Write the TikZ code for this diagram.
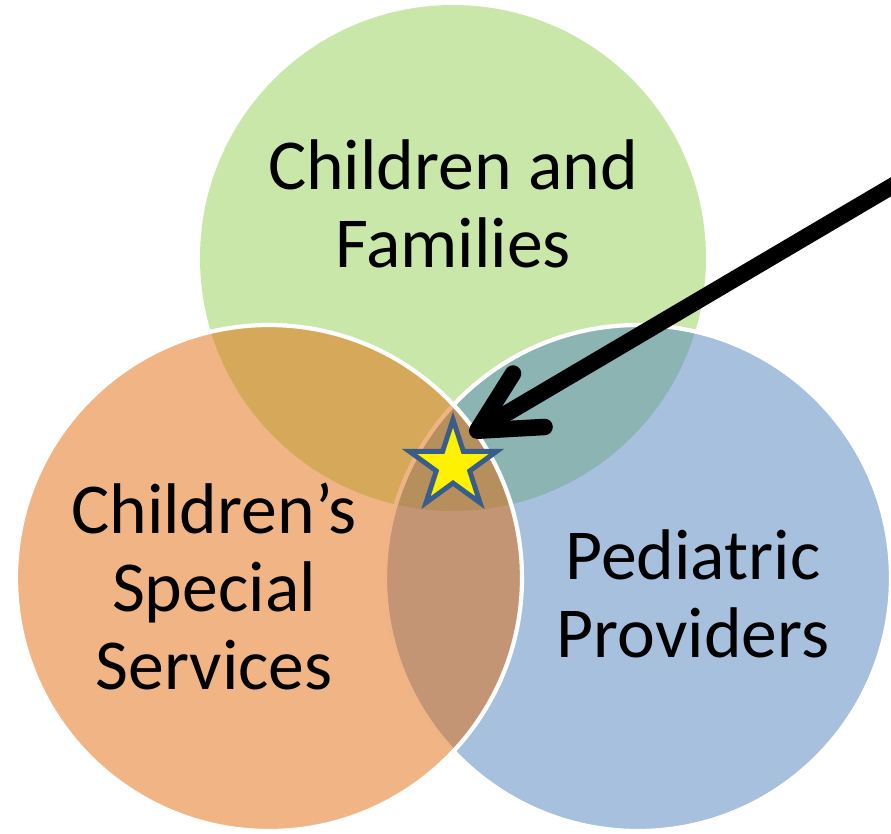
\documentclass[tikz,border=0pt]{standalone}
\usepackage{fontspec}
\setmainfont{Carlito}
\usepackage{xcolor}
\usetikzlibrary{shapes,arrows,positioning,arrows.meta,calc}

\definecolor{famgreen}{RGB}{147,207,83}
\definecolor{pedblue}{RGB}{79,129,189}
\definecolor{cssorange}{RGB}{227,107,11}
\definecolor{starblue}{RGB}{56,93,138}

\begin{document}
\begin{tikzpicture}
    % page frame
    \clip (0,0) rectangle (8.91,-8.33);

    \begin{scope}
        % Three overlapping circles
        \node[circle, minimum size=5.06cm, inner sep=0pt,
              fill=famgreen, fill opacity=0.5] (fam) at (4.53,-2.58) {};
        \node[circle, minimum size=5.06cm, inner sep=0pt,
              fill=pedblue, fill opacity=0.5, draw=white, line width=1.2pt] (ped) at (6.38,-5.78) {};
        \node[circle, minimum size=5.06cm, inner sep=0pt,
              fill=cssorange, fill opacity=0.5, draw=white, line width=1.2pt] (css) at (2.69,-5.78) {};

        % Circle labels
        \node[align=center, inner sep=0pt, font=\fontsize{20.4}{22.1}\selectfont]
            (famtext) at (4.53,-2.04) {Children and\\Families};
        \node[align=center, inner sep=0pt, font=\fontsize{20.4}{22.1}\selectfont]
            (csstext) at (2.14,-5.865) {Children’s\\Special\\Services};
        \node[align=center, inner sep=0pt, font=\fontsize{20.4}{22.1}\selectfont]
            (pedtext) at (6.93,-5.94) {Pediatric\\Providers};

        % Star in the middle and arrow to it
        \node[star, star points=5, star point ratio=2.618, minimum size=0.92cm, inner sep=0pt,
              fill=yellow, draw=starblue, line width=1.4pt] (mark) at (4.53,-4.655) {};
        \coordinate (tail) at (9.5,-1.52);
        \draw[line width=4.7pt, -{Straight Barb[length=0.6cm, width=0.62cm, round]}]
            (tail) -- ($(mark.center)+(60.9:0.35)$);
    \end{scope}
\end{tikzpicture}
\end{document}
